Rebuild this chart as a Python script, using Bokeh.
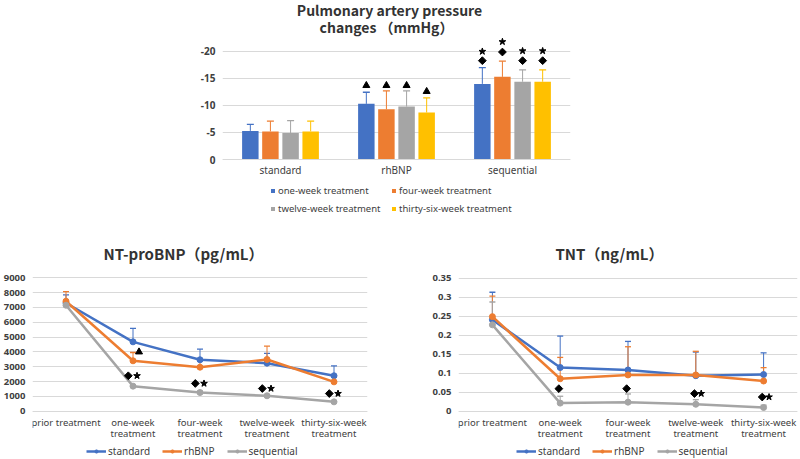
import math
from bokeh.plotting import figure
from bokeh.models import (Range1d, FactorRange, FixedTicker, Label, Legend, LegendItem,
                          ColumnDataSource, NumeralTickFormatter, Spacer)
from bokeh.layouts import column, row
from bokeh.transform import dodge
from bokeh.embed import file_html
from bokeh.resources import INLINE

FONT = "Noto Sans"
TFONT = "Noto Sans CJK SC"
TXT = "#404040"
TITLE = "#333333"
GRID = "#d9d9d9"
BLUE, ORANGE, GRAY, YELLOW = "#4472C4", "#ED7D31", "#A5A5A5", "#FFC000"
DIAMOND_ANGLE = math.pi / 4

# ---------------- Pulmonary artery pressure changes (mmHg) ----------------
groups = ["standard", "rhBNP", "sequential"]
periods = ["one-week treatment", "four-week treatment",
           "twelve-week treatment", "thirty-six-week treatment"]
pap_one_week = [-5.3, -10.3, -14.0]
pap_four_week = [-5.2, -9.3, -15.3]
pap_twelve_week = [-4.9, -9.8, -14.4]
pap_thirty_six_week = [-5.2, -8.7, -14.4]
pap_one_week_sd = [1.2, 2.15, 3.0]
pap_four_week_sd = [1.9, 3.4, 2.9]
pap_twelve_week_sd = [2.3, 2.9, 2.2]
pap_thirty_six_week_sd = [1.9, 2.7, 2.2]
pap_ticks = [0, -5, -10, -15, -20]
# significance marks (rhBNP: triangle, sequential: diamond + star)
pap_triangle_level = [-13.7, -13.7, -13.7, -12.6]
pap_diamond_level = [-18.3, -19.9, -18.3, -18.3]
pap_star_level = [-20.0, -21.8, -20.1, -20.1]

# ---------------- NT-proBNP / TNT ----------------
timepoints = ["prior treatment", "one-week\ntreatment", "four-week\ntreatment",
              "twelve-week\ntreatment", "thirty-six-week\ntreatment"]
series_names = ["standard", "rhBNP", "sequential"]
nt_standard = [7300, 4680, 3470, 3240, 2390]
nt_rhbnp = [7420, 3400, 2970, 3490, 1980]
nt_sequential = [7150, 1690, 1260, 1040, 630]
nt_standard_sd = [550, 910, 720, 660, 670]
nt_rhbnp_sd = [650, 560, 450, 900, 350]
nt_sequential_sd = [150, 100, 100, 80, 60]
nt_ticks = [0, 1000, 2000, 3000, 4000, 5000, 6000, 7000, 8000, 9000]
nt_triangle_level = [4000]            # one-week, rhBNP vs standard
nt_mark_points = timepoints[1:]
nt_mark_level = [2390, 1870, 1530, 1190]

tnt_standard = [0.241, 0.1155, 0.109, 0.094, 0.097]
tnt_rhbnp = [0.249, 0.086, 0.096, 0.096, 0.080]
tnt_sequential = [0.2275, 0.022, 0.0245, 0.019, 0.0105]
tnt_standard_sd = [0.072, 0.0825, 0.075, 0.062, 0.057]
tnt_rhbnp_sd = [0.054, 0.056, 0.074, 0.062, 0.035]
tnt_sequential_sd = [0.06, 0.018, 0.0215, 0.012, 0.006]
tnt_ticks = [0, 0.05, 0.1, 0.15, 0.2, 0.25, 0.3, 0.35]
tnt_diamond_points = timepoints[1:]
tnt_diamond_level = [0.060, 0.060, 0.047, 0.038]
tnt_star_points = timepoints[3:]
tnt_star_level = [0.047, 0.038]


def style_common(p, standoff, label_size, tick_size):
    p.outline_line_color = None
    p.xgrid.visible = False
    p.ygrid.grid_line_color = GRID
    p.ygrid.grid_line_width = 1
    p.yaxis.axis_line_color = None
    p.yaxis.major_tick_line_color = None
    p.yaxis.minor_tick_line_color = None
    p.yaxis.major_tick_out = 0
    p.yaxis.major_label_text_font = FONT
    p.yaxis.major_label_text_font_size = tick_size
    p.yaxis.major_label_text_font_style = "bold"
    p.yaxis.major_label_text_color = TXT
    p.yaxis.major_label_standoff = 7
    p.xaxis.fixed_location = 0
    p.xaxis.axis_line_color = GRID
    p.xaxis.major_tick_line_color = None
    p.xaxis.minor_tick_line_color = None
    p.xaxis.major_tick_out = 0
    p.xaxis.major_label_text_font = FONT
    p.xaxis.major_label_text_font_size = label_size
    p.xaxis.major_label_text_color = TXT
    p.xaxis.major_label_standoff = standoff
    p.xaxis.major_label_text_line_height = 0.8


def add_title(p, text, x, y, size):
    p.add_layout(Label(x=x, y=y, x_units="screen", y_units="screen", text=text,
                       text_align="center", text_baseline="middle", text_font=TFONT,
                       text_font_size=size, text_font_style="bold", text_color=TITLE))


def add_marks(p, xs, y, source, marker):
    if marker == "diamond":
        p.scatter(x=xs, y=y, source=source, marker="square", angle=DIAMOND_ANGLE,
                  size=5.5, fill_color="black", line_color="black")
    else:
        p.scatter(x=xs, y=y, source=source, marker=marker,
                  size=7, fill_color="black", line_color="black")


# ===================== top bar chart =====================
p1 = figure(width=430, height=225, x_range=FactorRange(*groups), y_range=Range1d(12.22, -29.44),
            output_backend="svg", toolbar_location=None,
            min_border_left=42, min_border_right=40, min_border_top=0, min_border_bottom=0)
style_common(p1, 3, "10px", "10px")
p1.yaxis.ticker = FixedTicker(ticks=pap_ticks)
p1.yaxis.formatter = NumeralTickFormatter(format="0")

bar_series = [
    (periods[0], pap_one_week, pap_one_week_sd, BLUE),
    (periods[1], pap_four_week, pap_four_week_sd, ORANGE),
    (periods[2], pap_twelve_week, pap_twelve_week_sd, GRAY),
    (periods[3], pap_thirty_six_week, pap_thirty_six_week_sd, YELLOW),
]
offsets = [-0.26, -0.087, 0.087, 0.26]
bar_items = []
for i, ((name, vals, sds, col), off) in enumerate(zip(bar_series, offsets)):
    src = ColumnDataSource(dict(g=groups, v=vals, e=[v - s for v, s in zip(vals, sds)]))
    xs = dodge("g", off, range=p1.x_range)
    r = p1.vbar(x=xs, top="v", bottom=0, width=0.142, source=src,
                fill_color=col, line_color=None)
    p1.segment(x0=xs, y0="v", x1=xs, y1="e", source=src, line_color=col, line_width=1)
    p1.scatter(x=xs, y="e", marker="dash", size=7, line_color=col, line_width=1.3, source=src)
    bar_items.append(LegendItem(label=name, renderers=[r]))
    tri = ColumnDataSource(dict(g=["rhBNP"], y=[pap_triangle_level[i]]))
    add_marks(p1, dodge("g", off, range=p1.x_range), "y", tri, "triangle")
    mk = ColumnDataSource(dict(g=["sequential"], d=[pap_diamond_level[i]], s=[pap_star_level[i]]))
    add_marks(p1, dodge("g", off, range=p1.x_range), "d", mk, "diamond")
    add_marks(p1, dodge("g", off, range=p1.x_range), "s", mk, "star")

leg1 = Legend(items=bar_items, orientation="horizontal", ncols=2, location=(48, 10),
              glyph_width=5, glyph_height=5, label_standoff=3, spacing=5, label_width=108,
              label_text_font=FONT, label_text_font_size="9.5px", label_text_color=TXT,
              label_height=12, padding=2, margin=0, border_line_color=None,
              background_fill_alpha=0)
p1.add_layout(leg1, "center")
add_title(p1, "Pulmonary artery pressure", 167, 216, "14px")
add_title(p1, "changes （mmHg）", 164, 199, "14px")


# ===================== line charts =====================
def line_chart(vals, sds, y_start, y_end, ticks, fmt, width, border_left, border_right,
               title, legend_x):
    p = figure(width=width, height=233, x_range=FactorRange(*timepoints),
               y_range=Range1d(y_start, y_end),
               output_backend="svg", toolbar_location=None,
               min_border_left=border_left, min_border_right=border_right,
               min_border_top=0, min_border_bottom=0)
    style_common(p, 5, "9.5px", "9.5px")
    p.yaxis.ticker = FixedTicker(ticks=ticks)
    p.yaxis.formatter = NumeralTickFormatter(format=fmt)
    cols = [BLUE, ORANGE, GRAY]
    for v, s, c in zip(vals, sds, cols):
        src = ColumnDataSource(dict(t=timepoints, v=v, e=[a + b for a, b in zip(v, s)]))
        p.segment(x0="t", y0="v", x1="t", y1="e", source=src, line_color=c, line_width=1)
        p.scatter(x="t", y="e", marker="dash", size=6, line_color=c, line_width=1.3, source=src)
    items = []
    for v, c, n in zip(vals, cols, series_names):
        src = ColumnDataSource(dict(t=timepoints, v=v))
        lr = p.line(x="t", y="v", source=src, line_color=c, line_width=2.5)
        sr = p.scatter(x="t", y="v", source=src, marker="circle", size=6,
                       fill_color=c, line_color=c)
        items.append(LegendItem(label=n, renderers=[lr, sr]))
    leg = Legend(items=items, orientation="horizontal", location=(legend_x, 0),
                 glyph_width=20, glyph_height=8, label_standoff=2, spacing=12,
                 label_text_font=FONT, label_text_font_size="10px", label_text_color=TXT,
                 label_height=11, padding=1, margin=0, border_line_color=None,
                 background_fill_alpha=0)
    p.add_layout(leg, "center")
    add_title(p, title, 151, 205, "15px")
    return p


p2 = line_chart([nt_standard, nt_rhbnp, nt_sequential],
                [nt_standard_sd, nt_rhbnp_sd, nt_sequential_sd],
                -3192, 12530, nt_ticks, "0", 400, 32, 33, "NT-proBNP（pg/mL）", 54)
tri_src = ColumnDataSource(dict(t=[timepoints[1]], y=nt_triangle_level))
add_marks(p2, dodge("t", 0.09, range=p2.x_range), "y", tri_src, "triangle")
nt_src = ColumnDataSource(dict(t=nt_mark_points, y=nt_mark_level))
add_marks(p2, dodge("t", -0.07, range=p2.x_range), "y", nt_src, "diamond")
add_marks(p2, dodge("t", 0.06, range=p2.x_range), "y", nt_src, "star")

p3 = line_chart([tnt_standard, tnt_rhbnp, tnt_sequential],
                [tnt_standard_sd, tnt_rhbnp_sd, tnt_sequential_sd],
                -0.1234, 0.4883, tnt_ticks, "0.[00]", 399, 58, 2, "TNT（ng/mL）", 58)
d_src = ColumnDataSource(dict(t=tnt_diamond_points, y=tnt_diamond_level))
add_marks(p3, dodge("t", -0.02, range=p3.x_range), "y", d_src, "diamond")
s_src = ColumnDataSource(dict(t=tnt_star_points, y=tnt_star_level))
add_marks(p3, dodge("t", 0.08, range=p3.x_range), "y", s_src, "star")

layout = column(row(Spacer(width=180, height=225), p1), row(p2, p3))
open("out.html", "w").write(file_html(layout, INLINE))
